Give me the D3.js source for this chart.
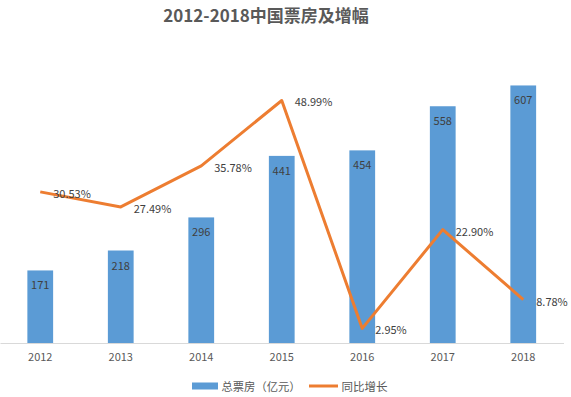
<!DOCTYPE html>
<html><head><meta charset="utf-8">
<script src="https://cdn.jsdelivr.net/npm/d3@7"></script>
<style>
body{margin:0;background:#fff;}
svg{display:block;font-family:"Noto Sans CJK SC","Noto Sans",sans-serif;}
</style></head>
<body><svg id="c" width="571" height="397"></svg>
<script>
const years = ["2012","2013","2014","2015","2016","2017","2018"];
const boxOffice = [171, 218, 296, 441, 454, 558, 607];
const growth = [30.53, 27.49, 35.78, 48.99, 2.95, 22.90, 8.78];
const growthLabels = ["30.53%","27.49%","35.78%","48.99%","2.95%","22.90%","8.78%"];
const titleText = "2012-2018中国票房及增幅";
const legendBar = "总票房（亿元）";
const legendLine = "同比增长";

const svg = d3.select("#c");
const x = d3.scaleBand().domain(years).range([0, 563.5]).paddingInner(0.68).paddingOuter(0.34);
const y = d3.scaleLinear().domain([0, 700]).range([343, 46]);
const y2 = d3.scaleLinear().domain([0, 60]).range([343, 46]);

svg.append("text").attr("x", 266).attr("y", 22).attr("text-anchor","middle")
  .attr("font-size", 17).attr("font-weight","bold").attr("fill","#595959").text(titleText);

// bars
svg.selectAll("rect.bar").data(years).join("rect").attr("class","bar")
  .attr("x", d => x(d)).attr("width", x.bandwidth())
  .attr("y", (d,i) => y(boxOffice[i])).attr("height", (d,i) => y(0) - y(boxOffice[i]))
  .attr("fill", "#5B9BD5");

// axis
const ax = svg.append("g").attr("transform", `translate(0,${y(0)})`)
  .call(d3.axisBottom(x).tickSize(0).tickPadding(10));
ax.select(".domain").attr("stroke","#d9d9d9").attr("stroke-width",1.2);
ax.selectAll("text").attr("font-size", 11).attr("fill","#595959")
  .attr("font-family",'"Noto Sans CJK SC","Noto Sans",sans-serif');

// bar labels
svg.selectAll("text.bl").data(years).join("text").attr("class","bl")
  .attr("x", d => x(d) + x.bandwidth()/2).attr("y", (d,i) => y(boxOffice[i]) + 14)
  .attr("text-anchor","middle").attr("dominant-baseline","central")
  .attr("font-size", 11).attr("fill","#404040").text((d,i) => boxOffice[i]);

// line
const cx = d => x(d) + x.bandwidth()/2;
const line = d3.line().x((d,i) => cx(years[i])).y(d => y2(d));
svg.append("path").datum(growth).attr("d", line).attr("fill","none")
  .attr("stroke","#ED7D31").attr("stroke-width",3).attr("stroke-linejoin","round");

svg.selectAll("text.ll").data(years).join("text").attr("class","ll")
  .attr("x", d => cx(d) + 13).attr("y", (d,i) => y2(growth[i]) + 1)
  .attr("dominant-baseline","central")
  .attr("font-size", 11).attr("fill","#404040").text((d,i) => growthLabels[i]);

// legend
const lg = svg.append("g");
lg.append("rect").attr("x",192).attr("y",382.5).attr("width",26).attr("height",7).attr("fill","#5B9BD5");
lg.append("text").attr("x",221.5).attr("y",386).attr("dominant-baseline","central")
  .attr("font-size",11.3).attr("fill","#595959").text(legendBar);
lg.append("line").attr("x1",309).attr("x2",338).attr("y1",386).attr("y2",386)
  .attr("stroke","#ED7D31").attr("stroke-width",3);
lg.append("text").attr("x",341.5).attr("y",386).attr("dominant-baseline","central")
  .attr("font-size",11.5).attr("fill","#595959").text(legendLine);
</script></body></html>
